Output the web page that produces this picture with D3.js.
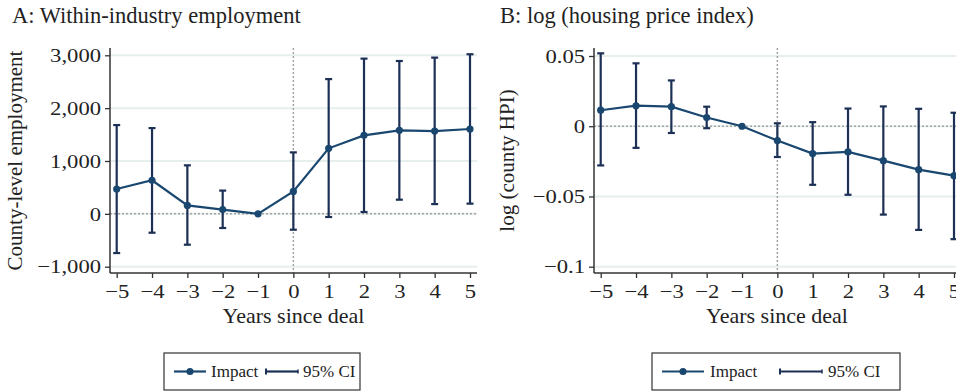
<!DOCTYPE html>
<html>
<head>
<meta charset="utf-8">
<script src="https://cdn.jsdelivr.net/npm/d3@7"></script>
<style>
  html, body { margin: 0; padding: 0; background: #fff; }
  svg, svg text { font-family: "Liberation Serif", "Times New Roman", serif !important; }
</style>
</head>
<body>
<svg id="chart" width="956" height="391"></svg>
<script>
// ---------- data ----------
const years = [-5, -4, -3, -2, -1, 0, 1, 2, 3, 4, 5];

const empImpact = [470, 635, 160, 80, 0, 425, 1240, 1485, 1580, 1567, 1605];
const empLow    = [-742, -357, -584, -268, null, -300, -60, 35, 268, 185, 193];
const empHigh   = [1680, 1623, 918, 440, null, 1163, 2550, 2937, 2892, 2956, 3020];

const hpiImpact = [0.0114, 0.0146, 0.0139, 0.0062, 0, -0.0102, -0.0195, -0.0183, -0.0245, -0.0309, -0.0352];
const hpiLow    = [-0.0279, -0.0154, -0.0048, -0.0014, null, -0.0219, -0.0417, -0.0488, -0.0629, -0.0738, -0.0804];
const hpiHigh   = [0.0519, 0.0448, 0.0326, 0.0139, null, 0.0021, 0.0029, 0.0126, 0.0141, 0.0124, 0.0096];

const empTicks = [-1000, 0, 1000, 2000, 3000];
const hpiTicks = [-0.1, -0.05, 0, 0.05];
const hpiTickLabels = ["\u22120.1", "\u22120.05", "0", "0.05"];

const titles = ["A: Within-industry employment", "B: log (housing price index)"];
const yTitles = ["County-level employment", "log (county HPI)"];
const xTitle = "Years since deal";
const legendLabels = ["Impact", "95% CI"];

// ---------- styles ----------
const lineColor = "#1a476f";
const ciColor = "#1c2f55";
const gridColor = "#e6eeee";
const refColor = "#a3a3a3";
const axisColor = "#333";
const textColor = "#222";

const svg = d3.select("#chart");

function fmtEmp(v) {
  const s = d3.format(",")(Math.abs(v));
  return v < 0 ? "\u2212" + s : s;
}

function widen(sel, f) {
  sel.each(function() {
    const w = this.getComputedTextLength();
    d3.select(this).attr("textLength", w * f).attr("lengthAdjust", "spacingAndGlyphs");
  });
}

const panels = [
  {
    left: 110, right: 477, top: 48, bottom: 273,
    yDomain: [-1000, 3000], yRange: [266.7, 55.3],
    impact: empImpact, low: empLow, high: empHigh,
    ticks: empTicks, tickLabels: empTicks.map(fmtEmp),
    title: titles[0], titleX: 12, yTitle: yTitles[0], yTitleX: 22,
    legend: { x: 164, w: 196, key1: [10, 42], text1: 47, key2: [102, 134], text2: 139 }
  },
  {
    left: 594, right: 960, top: 48, bottom: 273,
    yDomain: [-0.1, 0.05], yRange: [266.7, 56],
    impact: hpiImpact, low: hpiLow, high: hpiHigh,
    ticks: hpiTicks, tickLabels: hpiTickLabels,
    title: titles[1], titleX: 500, yTitle: yTitles[1], yTitleX: 514,
    legend: { x: 652, w: 248, key1: [10, 52], text1: 58, key2: [128, 170], text2: 176 }
  }
];

panels.forEach(p => {
  const g = svg.append("g");
  const x = d3.scaleLinear().domain([-5, 5]).range([p.left + 6.7, p.left + 6.7 + 353.3]);
  const y = d3.scaleLinear().domain(p.yDomain).range(p.yRange);

  // title
  g.append("text").attr("x", p.titleX).attr("y", 23)
    .attr("font-size", 22.5).attr("fill", textColor).text(p.title);

  // gridlines
  g.selectAll(".grid").data(p.ticks).join("line")
    .attr("x1", p.left).attr("x2", p.right)
    .attr("y1", d => y(d)).attr("y2", d => y(d))
    .attr("stroke", gridColor).attr("stroke-width", 2);

  // reference lines
  g.append("line").attr("x1", p.left).attr("x2", p.right)
    .attr("y1", y(0)).attr("y2", y(0))
    .attr("stroke", refColor).attr("stroke-width", 1.5).attr("stroke-dasharray", "2,2");
  g.append("line").attr("x1", x(0)).attr("x2", x(0))
    .attr("y1", p.top).attr("y2", p.bottom)
    .attr("stroke", refColor).attr("stroke-width", 1.5).attr("stroke-dasharray", "2,2");

  // y axis
  const yAxis = d3.axisLeft(y).tickValues(p.ticks)
    .tickFormat((d, i) => p.tickLabels[i]).tickSize(5).tickPadding(4);
  const ya = g.append("g").attr("transform", `translate(${p.left},0)`).call(yAxis)
    .attr("font-family", null).attr("font-size", null);
  ya.select(".domain").remove();
  ya.append("line").attr("x1", 0).attr("x2", 0).attr("y1", p.top).attr("y2", p.bottom)
    .attr("stroke", axisColor).attr("stroke-width", 1.5);
  ya.selectAll(".tick line").attr("stroke", axisColor).attr("stroke-width", 1.3);
  ya.selectAll(".tick text").style("font-size", "19.5px").attr("fill", textColor);
  widen(ya.selectAll(".tick text"), 1.16);

  // x axis
  const xAxis = d3.axisBottom(x).tickValues(years)
    .tickFormat(d => d < 0 ? "\u2212" + Math.abs(d) : String(d)).tickSize(5).tickPadding(6);
  const xa = g.append("g").attr("transform", `translate(0,${p.bottom})`).call(xAxis)
    .attr("font-family", null).attr("font-size", null);
  xa.select(".domain").remove();
  xa.append("line").attr("x1", p.left).attr("x2", p.right).attr("y1", 0).attr("y2", 0)
    .attr("stroke", axisColor).attr("stroke-width", 1.5);
  xa.selectAll(".tick line").attr("stroke", axisColor).attr("stroke-width", 1.3);
  xa.selectAll(".tick text").style("font-size", "19.5px").attr("fill", textColor);
  widen(xa.selectAll(".tick text"), 1.16);

  // axis titles
  g.append("text").attr("x", (p.left + p.right) / 2).attr("y", 323)
    .attr("text-anchor", "middle").attr("font-size", 22).attr("fill", textColor).text(xTitle);
  g.append("text")
    .attr("transform", `translate(${p.yTitleX},${(p.top + p.bottom) / 2}) rotate(-90)`)
    .attr("text-anchor", "middle").attr("font-size", 21).attr("fill", textColor).text(p.yTitle);

  // CI bars
  const ciData = years.map((yr, i) => ({ yr, lo: p.low[i], hi: p.high[i] })).filter(d => d.lo !== null);
  const ci = g.append("g").attr("stroke", ciColor).attr("stroke-width", 2.2);
  ci.selectAll(".bar").data(ciData).join("line")
    .attr("x1", d => x(d.yr)).attr("x2", d => x(d.yr))
    .attr("y1", d => y(d.lo)).attr("y2", d => y(d.hi));
  ci.selectAll(".capHi").data(ciData).join("line")
    .attr("x1", d => x(d.yr) - 3.5).attr("x2", d => x(d.yr) + 3.5)
    .attr("y1", d => y(d.hi)).attr("y2", d => y(d.hi));
  ci.selectAll(".capLo").data(ciData).join("line")
    .attr("x1", d => x(d.yr) - 3.5).attr("x2", d => x(d.yr) + 3.5)
    .attr("y1", d => y(d.lo)).attr("y2", d => y(d.lo));

  // impact line
  const line = d3.line().x((d, i) => x(years[i])).y(d => y(d));
  g.append("path").datum(p.impact).attr("d", line)
    .attr("fill", "none").attr("stroke", lineColor).attr("stroke-width", 2.2);
  g.selectAll(".pt").data(p.impact).join("circle")
    .attr("cx", (d, i) => x(years[i])).attr("cy", d => y(d)).attr("r", 3.6)
    .attr("fill", lineColor);

  // legend
  const L = p.legend;
  const lx = L.x, ly = 353, lh = 37;
  const lg = g.append("g");
  lg.append("rect").attr("x", lx).attr("y", ly).attr("width", L.w).attr("height", lh)
    .attr("fill", "#fff").attr("stroke", "#333").attr("stroke-width", 1.2);
  const cy = ly + lh / 2;
  lg.append("line").attr("x1", lx + L.key1[0]).attr("x2", lx + L.key1[1]).attr("y1", cy).attr("y2", cy)
    .attr("stroke", lineColor).attr("stroke-width", 2.2);
  lg.append("circle").attr("cx", lx + (L.key1[0] + L.key1[1]) / 2).attr("cy", cy).attr("r", 3.6).attr("fill", lineColor);
  lg.append("text").attr("x", lx + L.text1).attr("y", cy + 5.5).style("font-size", "17px")
    .attr("fill", textColor).text(legendLabels[0]);
  lg.append("line").attr("x1", lx + L.key2[0]).attr("x2", lx + L.key2[1]).attr("y1", cy).attr("y2", cy)
    .attr("stroke", ciColor).attr("stroke-width", 2.2);
  lg.append("line").attr("x1", lx + L.key2[0]).attr("x2", lx + L.key2[0]).attr("y1", cy - 3).attr("y2", cy + 3)
    .attr("stroke", ciColor).attr("stroke-width", 2);
  lg.append("line").attr("x1", lx + L.key2[1]).attr("x2", lx + L.key2[1]).attr("y1", cy - 2).attr("y2", cy + 2)
    .attr("stroke", ciColor).attr("stroke-width", 1.5);
  lg.append("text").attr("x", lx + L.text2).attr("y", cy + 5.5).style("font-size", "17px")
    .attr("fill", textColor).text(legendLabels[1]);
});
</script>
</body>
</html>
